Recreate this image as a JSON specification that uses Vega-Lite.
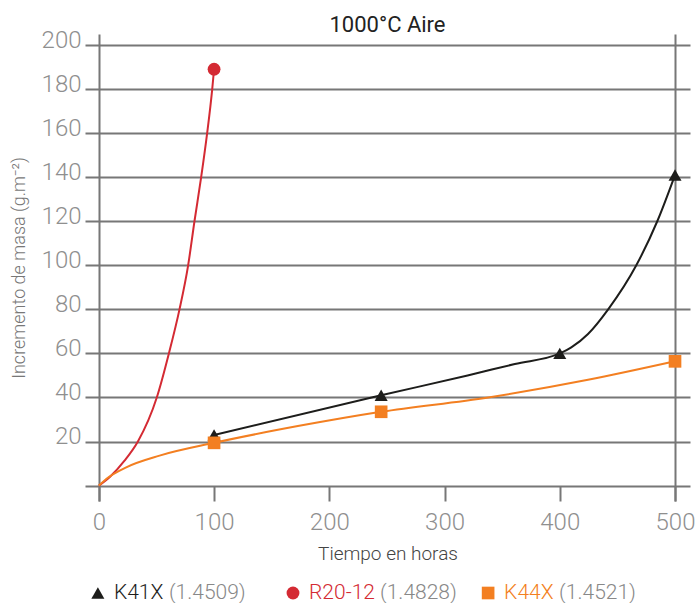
{
  "$schema": "https://vega.github.io/schema/vega-lite/v6.json",
  "padding": {"left": 10, "top": 14, "right": 0, "bottom": 0},
  "config": {"view": {"stroke": null}, "font": "Roboto", "concat": {"spacing": 19}},
  "datasets": {
    "curves": [
      {"series": "K41X", "t": 100, "mass": 23},
      {"series": "K41X", "t": 245, "mass": 41},
      {"series": "K41X", "t": 320, "mass": 50},
      {"series": "K41X", "t": 361, "mass": 55.2},
      {"series": "K41X", "t": 400, "mass": 60},
      {"series": "K41X", "t": 410, "mass": 62.7},
      {"series": "K41X", "t": 424.5, "mass": 68.8},
      {"series": "K41X", "t": 442, "mass": 80},
      {"series": "K41X", "t": 466.4, "mass": 100},
      {"series": "K41X", "t": 484.6, "mass": 120},
      {"series": "K41X", "t": 500, "mass": 141},
      {"series": "R20-12", "t": 0, "mass": 0},
      {"series": "R20-12", "t": 9.3, "mass": 3.8},
      {"series": "R20-12", "t": 22.3, "mass": 11.3},
      {"series": "R20-12", "t": 33.9, "mass": 20},
      {"series": "R20-12", "t": 50.3, "mass": 40},
      {"series": "R20-12", "t": 60.8, "mass": 60},
      {"series": "R20-12", "t": 70, "mass": 80},
      {"series": "R20-12", "t": 77.5, "mass": 100},
      {"series": "R20-12", "t": 83, "mass": 120},
      {"series": "R20-12", "t": 88.8, "mass": 140},
      {"series": "R20-12", "t": 94, "mass": 160},
      {"series": "R20-12", "t": 98.4, "mass": 180},
      {"series": "R20-12", "t": 100, "mass": 189},
      {"series": "K44X", "t": 0, "mass": 0},
      {"series": "K44X", "t": 6.4, "mass": 3},
      {"series": "K44X", "t": 23.8, "mass": 8.3},
      {"series": "K44X", "t": 52.7, "mass": 13.6},
      {"series": "K44X", "t": 100, "mass": 19.4},
      {"series": "K44X", "t": 172.7, "mass": 27},
      {"series": "K44X", "t": 245, "mass": 33.5},
      {"series": "K44X", "t": 338, "mass": 40},
      {"series": "K44X", "t": 424.5, "mass": 48},
      {"series": "K44X", "t": 500, "mass": 56.4}
    ],
    "points": [
      {"series": "K41X", "t": 100, "mass": 23},
      {"series": "K41X", "t": 245, "mass": 41},
      {"series": "K41X", "t": 400, "mass": 60},
      {"series": "K41X", "t": 500, "mass": 141},
      {"series": "R20-12", "t": 100, "mass": 189},
      {"series": "K44X", "t": 100, "mass": 19.4},
      {"series": "K44X", "t": 245, "mass": 33.5},
      {"series": "K44X", "t": 500, "mass": 56.4}
    ],
    "legend": [
      {"series": "K41X", "name": "K41X", "code": "(1.4509)"},
      {"series": "R20-12", "name": "R20-12", "code": "(1.4828)"},
      {"series": "K44X", "name": "K44X", "code": "(1.4521)"}
    ]
  },
  "vconcat": [
    {
      "width": 605,
      "height": 467,
      "title": {"text": "1000°C Aire", "fontSize": 22, "fontWeight": "normal", "color": "#222222", "font": "Roboto", "frame": "group", "offset": -9},
      "layer": [
        {
          "data": {"name": "curves"},
          "mark": {"type": "line", "interpolate": "monotone", "strokeWidth": 2},
          "encoding": {
            "x": {
              "field": "t", "type": "quantitative",
              "scale": {"domain": [-12, 513], "nice": false, "zero": false},
              "axis": {
                "values": [0, 100, 200, 300, 400, 500],
                "title": "Tiempo en horas",
                "domain": false,
                "grid": true, "gridColor": "#777777", "gridWidth": 2,
                "gridOpacity": {"condition": {"test": "datum.value == 0 || datum.value == 500", "value": 1}, "value": 0},
                "ticks": true, "tickSize": -15, "tickWidth": 2, "tickColor": "#777777",
                "labelFontSize": 24, "labelFont": "Roboto", "labelFontWeight": 300, "labelColor": "#8f8f8f", "labelPadding": 24,
                "titleFontSize": 19, "titleFont": "Roboto", "titleFontWeight": 300, "titleColor": "#444444", "titlePadding": 10
              }
            },
            "y": {
              "field": "mass", "type": "quantitative",
              "scale": {"domain": [-7, 205], "nice": false, "zero": false},
              "axis": {
                "values": [0, 20, 40, 60, 80, 100, 120, 140, 160, 180, 200],
                "title": "Incremento de masa  (g.m⁻²)",
                "domain": false, "ticks": false,
                "grid": true, "gridColor": "#777777", "gridWidth": 2,
                "labelExpr": "datum.value == 0 ? '' : datum.label",
                "labelFontSize": 24, "labelFont": "Roboto", "labelFontWeight": 300, "labelColor": "#8f8f8f",
                "labelPadding": 4, "labelBaseline": "alphabetic", "labelOffset": 2,
                "titleFontSize": 18, "titleFont": "Roboto", "titleFontWeight": 300, "titleColor": "#777777", "titlePadding": 13
              }
            },
            "color": {
              "field": "series", "type": "nominal",
              "scale": {"domain": ["K41X", "R20-12", "K44X"], "range": ["#1d1d1b", "#d42a33", "#f37f21"]},
              "legend": null
            }
          }
        },
        {
          "data": {"name": "points"},
          "mark": {"type": "point", "filled": true, "opacity": 1},
          "encoding": {
            "x": {"field": "t", "type": "quantitative"},
            "y": {"field": "mass", "type": "quantitative"},
            "color": {"field": "series", "type": "nominal", "legend": null},
            "shape": {
              "field": "series", "type": "nominal",
              "scale": {"domain": ["K41X", "R20-12", "K44X"], "range": ["triangle-up", "circle", "square"]},
              "legend": null
            },
            "size": {
              "field": "series", "type": "nominal",
              "scale": {"domain": ["K41X", "R20-12", "K44X"], "range": [170, 160, 225]},
              "legend": null
            }
          }
        }
      ]
    },
    {
      "width": 416,
      "height": 18,
      "data": {"name": "legend"},
      "encoding": {
        "x": {
          "field": "series", "type": "nominal",
          "scale": {"type": "point", "domain": ["K41X", "R20-12", "K44X"], "padding": 0.066},
          "axis": null
        }
      },
      "layer": [
        {
          "mark": {"type": "point", "filled": true, "opacity": 1},
          "encoding": {
            "color": {"field": "series", "type": "nominal", "legend": null},
            "shape": {"field": "series", "type": "nominal", "legend": null},
            "size": {"field": "series", "type": "nominal", "legend": null}
          }
        },
        {
          "mark": {"type": "text", "align": "left", "baseline": "middle", "dx": 16, "fontSize": 21, "font": "Roboto", "fontWeight": 300},
          "encoding": {
            "text": {"field": "name"},
            "color": {"field": "series", "type": "nominal", "legend": null}
          }
        },
        {
          "transform": [{"filter": "datum.series != 'R20-12'"}],
          "mark": {"type": "text", "align": "left", "baseline": "middle", "dx": 71, "fontSize": 21, "font": "Roboto", "fontWeight": 300, "color": "#888888"},
          "encoding": {"text": {"field": "code"}}
        },
        {
          "transform": [{"filter": "datum.series == 'R20-12'"}],
          "mark": {"type": "text", "align": "left", "baseline": "middle", "dx": 87, "fontSize": 21, "font": "Roboto", "fontWeight": 300, "color": "#888888"},
          "encoding": {"text": {"field": "code"}}
        }
      ]
    }
  ]
}
